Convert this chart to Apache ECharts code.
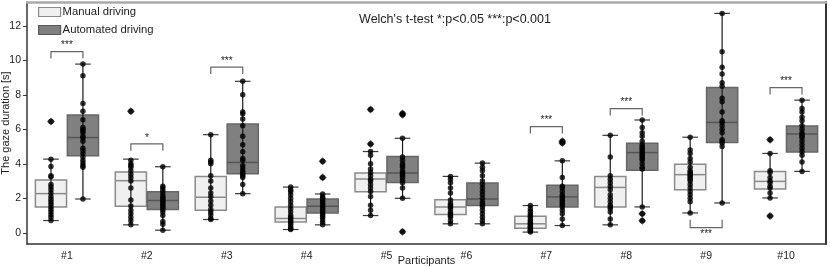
<!DOCTYPE html>
<html><head><meta charset="utf-8">
<script src="https://cdn.jsdelivr.net/npm/echarts@6/dist/echarts.min.js"></script>
<style>html,body{margin:0;padding:0;background:#fff}#c{width:830px;height:267px}</style>
</head><body><div id="c"></div>
<script>
const categories = ['#1','#2','#3','#4','#5','#6','#7','#8','#9','#10'];
const yTicks = [0,2,4,6,8,10,12];
// [lower whisker, Q1, median, Q3, upper whisker]
const manualStats = [
  [0.71,1.50,2.27,3.06,4.27],
  [0.46,1.54,3.02,3.52,4.27],
  [0.77,1.31,2.06,3.27,5.69],
  [0.19,0.62,0.83,1.50,2.65],
  [1.00,2.38,3.12,3.46,4.71],
  [0.52,1.06,1.50,1.92,3.27],
  [0.04,0.27,0.52,0.96,1.58],
  [0.46,1.50,2.63,3.27,5.65],
  [1.15,2.50,3.37,3.98,5.54],
  [2.02,2.54,2.98,3.56,4.60]
];
const autoStats = [
  [1.96,4.46,5.52,6.83,9.78],
  [0.15,1.35,1.87,2.38,3.83],
  [2.27,3.42,4.08,6.31,8.78],
  [0.46,1.15,1.54,1.96,2.25],
  [2.00,2.92,3.46,4.42,5.48],
  [0.52,1.58,1.96,2.88,4.04],
  [0.42,1.50,2.08,2.75,4.17],
  [1.50,3.63,4.65,5.19,6.54],
  [1.73,5.23,6.40,8.42,12.72],
  [3.56,4.69,5.73,6.19,7.69]
];
const manualPoints = [
  [0.71,0.9,1.05,1.2,1.35,1.5,1.65,1.8,1.95,2.1,2.3,2.5,2.65,2.8,3.25,3.3,3.85,4.27,6.45],
  [0.46,0.7,0.9,1.1,1.3,1.55,1.9,2.6,3.0,3.2,3.4,3.6,3.8,3.9,4.0,4.2,7.05],
  [0.77,0.85,1.05,1.2,1.35,1.6,1.85,2.1,2.3,2.6,3.0,3.3,4.0,4.1,4.2,5.69],
  [0.19,0.25,0.35,0.5,0.6,0.7,0.8,0.9,1.0,1.2,1.4,1.6,1.8,2.0,2.2,2.4,2.5,2.65],
  [1.0,1.3,1.6,2.1,2.4,2.6,2.8,3.0,3.1,3.3,3.5,3.7,4.0,4.5,4.71,5.15,7.15],
  [0.52,0.7,0.9,1.0,1.1,1.2,1.4,1.5,1.6,1.7,1.9,2.3,2.6,2.9,3.1,3.27],
  [0.04,0.1,0.15,0.2,0.3,0.35,0.4,0.5,0.55,0.65,0.75,0.9,1.0,1.1,1.25,1.4,1.58],
  [0.46,0.8,1.2,1.4,1.5,1.6,1.8,2.0,2.2,2.5,2.7,2.9,3.1,3.3,4.4,5.65],
  [1.15,1.8,2.0,2.2,2.4,2.6,2.8,3.0,3.1,3.2,3.3,3.4,3.5,3.6,3.8,4.1,4.3,4.6,4.8,5.54],
  [0.98,2.02,2.3,2.6,2.7,2.9,3.0,3.2,3.5,3.6,4.6,5.4]
];
const autoPoints = [
  [1.96,3.8,3.9,4.05,4.2,4.4,4.6,4.75,4.9,5.3,5.5,5.6,5.8,5.9,6.0,6.1,6.55,7.05,7.5,9.1,9.78],
  [0.15,0.5,0.65,1.0,1.2,1.35,1.45,1.55,1.65,1.75,1.85,1.95,2.05,2.15,2.3,2.45,2.6,2.7,3.83],
  [2.27,2.8,3.2,3.3,3.4,3.5,3.6,3.75,3.9,4.2,4.3,4.7,5.1,5.6,6.2,6.6,6.9,7.0,8.0,8.78],
  [0.46,0.6,0.75,0.9,1.0,1.1,1.2,1.3,1.4,1.5,1.6,1.7,1.8,1.9,2.0,2.1,2.25,3.2,4.15],
  [0.06,2.0,2.6,2.9,3.05,3.2,3.3,3.4,3.5,3.6,3.8,3.9,4.0,4.2,4.4,5.48,6.85,6.92],
  [0.52,0.7,0.9,1.1,1.3,1.5,1.6,1.7,1.8,2.0,2.2,2.4,2.6,2.8,3.0,3.3,3.6,3.8,4.04],
  [0.42,0.8,1.1,1.3,1.5,1.6,1.7,1.8,1.9,2.0,2.1,2.2,2.4,2.6,2.7,3.2,4.17,5.2,5.3],
  [0.7,1.1,1.5,3.7,3.8,4.0,4.2,4.3,4.4,4.5,4.6,4.7,4.8,4.9,5.0,5.1,5.3,5.6,5.8,6.1,6.54],
  [1.73,5.0,5.2,5.3,5.4,5.8,6.0,6.2,6.4,6.5,7.0,7.6,7.8,8.5,8.7,9.2,9.6,10.5,12.72],
  [3.56,4.1,4.5,4.7,4.9,5.1,5.3,5.5,5.6,5.7,5.8,6.0,6.2,6.5,6.7,7.0,7.2,7.69]
];
const manualOutliers = [[6.45],[7.05],[],[],[5.15,7.15],[],[],[],[],[0.98,5.4]];
const autoOutliers = [[],[],[],[3.2,4.15],[0.06,6.85,6.92],[],[5.2,5.3],[0.7,1.1],[],[]];
// [category index, bracket line value, arm end value, label]
const brackets = [
  [0,10.5,10.1,'***'],
  [1,5.15,4.75,'*'],
  [2,9.6,9.2,'***'],
  [6,6.15,5.75,'***'],
  [7,7.2,6.8,'***'],
  [9,8.42,8.02,'***'],
  [8,0.3,0.75,'***']
];

const GRID = {left:27, right:4, top:2, bottom:23};
const band = (830 - GRID.left - GRID.right) / categories.length;
const off = 0.2 * band;
const FONT = 'Liberation Sans, Arial, sans-serif';

function boxRender(dir, fill, stroke, medColor){
  return function(params, api){
    const c = api.value(0);
    const b = api.size([1,0])[0];
    const cx = api.coord([c, 0])[0] + dir*0.2*b;
    const w = b*0.39;
    const y = i => api.coord([c, api.value(i)])[1];
    const yMin=y(1), yQ1=y(2), yMed=y(3), yQ3=y(4), yMax=y(5);
    const cw = w*0.25;
    return {type:'group', children:[
      {type:'rect', shape:{x:cx-w/2, y:yQ3, width:w, height:yQ1-yQ3}, style:{fill:fill, stroke:stroke, lineWidth:1.5}},
      {type:'line', shape:{x1:cx-w/2,y1:yMed,x2:cx+w/2,y2:yMed}, style:{stroke:medColor,lineWidth:1.5}},
      {type:'line', shape:{x1:cx,y1:yMin,x2:cx,y2:yMax}, style:{stroke:'#1a1a1a',lineWidth:1.2}},
      {type:'line', shape:{x1:cx-cw,y1:yMin,x2:cx+cw,y2:yMin}, style:{stroke:'#3a3a3a',lineWidth:1.2}},
      {type:'line', shape:{x1:cx-cw,y1:yMax,x2:cx+cw,y2:yMax}, style:{stroke:'#3a3a3a',lineWidth:1.2}}
    ]};
  };
}
function bracketRender(params, api){
  const c = api.value(0);
  const b = api.size([1,0])[0];
  const x0 = api.coord([c,0])[0];
  const xl = x0 - 0.2*b, xr = x0 + 0.2*b;
  const yl = api.coord([c, api.value(1)])[1];
  const ya = api.coord([c, api.value(2)])[1];
  const below = api.value(2) > api.value(1);
  return {type:'group', children:[
    {type:'polyline', shape:{points:[[xl,ya],[xl,yl],[xr,yl],[xr,ya]]}, style:{stroke:'#666',lineWidth:1.2,fill:null}},
    {type:'text', style:{text:api.value(3), x:x0, y: below ? yl+2 : yl-1, align:'center', verticalAlign: below ? 'top':'bottom', fill:'#222', font:'10px '+FONT}}
  ]};
}
const flat = (arr) => arr.flatMap((a,i)=>a.map(v=>[i,v]));

const chart = echarts.init(document.getElementById('c'), null, {renderer:'canvas'});
chart.setOption({
  animation:false,
  backgroundColor:'#fff',
  title:{text:"Welch's t-test *:p<0.05 ***:p<0.001", left:450, textAlign:'center', top:8,
    textStyle:{fontFamily:FONT, fontSize:12.5, fontWeight:'normal', color:'#222'}},
  legend:{orient:'vertical', left:33, top:1.5, itemWidth:22, itemHeight:9, itemGap:7,
    textStyle:{fontFamily:FONT, fontSize:11.3, color:'#222', padding:[0,0,0,-3]},
    data:[
      {name:'Manual driving', icon:'rect', itemStyle:{color:'#f0f0f0', borderColor:'#8a8a8a', borderWidth:1.2}},
      {name:'Automated driving', icon:'rect', itemStyle:{color:'#808080', borderColor:'#5a5a5a', borderWidth:1.2}}
    ]},
  grid:{left:GRID.left, right:GRID.right, top:GRID.top, bottom:GRID.bottom, containLabel:false, outerBoundsMode:'none'},
  xAxis:[
    {type:'category', data:categories, name:'Participants', nameLocation:'middle', nameGap:11, nameMoveOverlap:false,
      nameTextStyle:{fontFamily:FONT, fontSize:11, color:'#222', verticalAlign:'top'},
      axisLine:{onZero:false, lineStyle:{color:'#333', width:1.5}},
      axisTick:{alignWithLabel:true, length:4, lineStyle:{color:'#333'}},
      axisLabel:{fontFamily:FONT, fontSize:10.5, color:'#222', margin:7},
      splitLine:{show:false}},
    {type:'category', data:categories, position:'top', axisLine:{onZero:false, lineStyle:{color:'#aaa', width:2.5}},
      axisTick:{show:false}, axisLabel:{show:false}}
  ],
  yAxis:[
    {type:'value', min:-0.65, max:13.38, name:'The gaze duration [s]', nameLocation:'middle', nameGap:16, nameMoveOverlap:false,
      nameTextStyle:{fontFamily:FONT, fontSize:11, color:'#222'},
      axisLine:{show:true, onZero:false, lineStyle:{color:'#333', width:1.5}},
      axisTick:{show:true, length:4, customValues:yTicks, lineStyle:{color:'#333'}},
      axisLabel:{fontFamily:FONT, fontSize:10.5, color:'#222', margin:6, customValues:yTicks},
      splitLine:{show:false}},
    {type:'value', min:-0.65, max:13.38, position:'right', axisLine:{show:true, onZero:false, lineStyle:{color:'#333', width:2}},
      axisTick:{show:false}, axisLabel:{show:false}, splitLine:{show:false}}
  ],
  series:[
    {name:'Manual driving', type:'custom', renderItem:boxRender(-1,'#f0f0f0','#8a8a8a','#8a8a8a'),
      itemStyle:{color:'#f0f0f0'}, encode:{x:0,y:[1,2,3,4,5]}, z:2,
      data: manualStats.map((s,i)=>[i].concat(s))},
    {name:'Automated driving', type:'custom', renderItem:boxRender(1,'#808080','#666','#555'),
      itemStyle:{color:'#808080'}, encode:{x:0,y:[1,2,3,4,5]}, z:2,
      data: autoStats.map((s,i)=>[i].concat(s))},
    {type:'scatter', data:flat(manualOutliers), symbol:'diamond', symbolSize:8, symbolOffset:[-off,0],
      itemStyle:{color:'#333'}, z:3},
    {type:'scatter', data:flat(autoOutliers), symbol:'diamond', symbolSize:8, symbolOffset:[off,0],
      itemStyle:{color:'#333'}, z:3},
    {type:'scatter', data:flat(manualPoints), symbol:'circle', symbolSize:5.5, symbolOffset:[-off,0],
      itemStyle:{color:'#000'}, z:4},
    {type:'scatter', data:flat(autoPoints), symbol:'circle', symbolSize:5.5, symbolOffset:[off,0],
      itemStyle:{color:'#000'}, z:4},
    {type:'custom', renderItem:bracketRender, encode:{x:0,y:[1,2]}, z:5, data:brackets}
  ]
});
</script></body></html>
